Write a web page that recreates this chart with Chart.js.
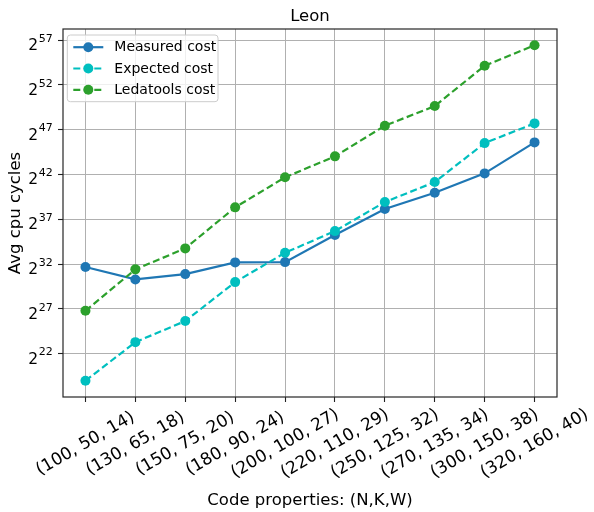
<!DOCTYPE html>
<html>
<head>
<meta charset="utf-8">
<script src="https://cdn.jsdelivr.net/npm/chart.js@4.4.1/dist/chart.umd.min.js"></script>
<style>
  html, body { margin: 0; padding: 0; background: #ffffff; }
  canvas { display: block; }
</style>
</head>
<body>
<canvas id="chart" width="594" height="512"></canvas>
<script>
// Code parameters (N, K, W) on the x axis
const categories = [
  '(100, 50, 14)', '(130, 65, 18)', '(150, 75, 20)', '(180, 90, 24)', '(200, 100, 27)',
  '(220, 110, 29)', '(250, 125, 32)', '(270, 135, 34)', '(300, 150, 38)', '(320, 160, 40)'
];

// Average cpu cycles, stored as base-2 exponents
const measuredLog2  = [31.67, 30.29, 30.88, 32.19, 32.22, 35.24, 38.14, 39.96, 42.12, 45.58];
const expectedLog2  = [18.98, 23.29, 25.64, 29.99, 33.26, 35.68, 38.92, 41.15, 45.50, 47.70];
const ledatoolsLog2 = [26.79, 31.41, 33.75, 38.33, 41.68, 44.02, 47.44, 49.63, 54.13, 56.41];

const seriesNames = ['Measured cost', 'Expected cost', 'Ledatools cost'];
const yTickExponents = [22, 27, 32, 37, 42, 47, 52, 57];

const chartTitle = 'Leon';
const xTitle = 'Code properties: (N,K,W)';
const yTitle = 'Avg cpu cycles';

const FONT = "'DejaVu Sans', 'Liberation Sans', sans-serif";
const colors = ['#1f77b4', '#00bfbf', '#2ca02c'];
const dashes = [[], [7, 3.5], [7, 3.5]];
const series = [measuredLog2, expectedLog2, ledatoolsLog2];
const MARKER_R = 5;

const datasets = series.map((vals, k) => ({
  label: seriesNames[k],
  data: vals.map((v, i) => ({ x: i, y: v })),
  borderColor: colors[k],
  backgroundColor: colors[k],
  pointBackgroundColor: colors[k],
  pointBorderColor: colors[k],
  pointBorderWidth: 0,
  pointRadius: MARKER_R,
  borderWidth: 2.2,
  borderDash: dashes[k],
  tension: 0,
  order: 3 - k
}));

const gridStyle = {
  color: '#b0b0b0',
  lineWidth: 1,
  tickLength: 5,
  tickColor: '#222222',
  tickWidth: 1.1
};

// Frame, tick labels, titles and the legend box
const decor = {
  id: 'decor',
  afterDatasetsDraw(chart) {
    const { ctx, chartArea: a } = chart;
    ctx.save();
    ctx.strokeStyle = '#262626';
    ctx.lineWidth = 1.2;
    ctx.strokeRect(a.left, a.top, a.right - a.left, a.bottom - a.top);
    ctx.restore();
  },
  afterDraw(chart) {
    const { ctx, chartArea: a, scales: { x, y } } = chart;
    const cx = (a.left + a.right) / 2;
    ctx.save();
    ctx.fillStyle = '#000000';

    // chart title and axis titles
    ctx.font = `16.5px ${FONT}`;
    ctx.textAlign = 'center';
    ctx.textBaseline = 'alphabetic';
    ctx.fillText(chartTitle, cx, 20.8);
    ctx.fillText(xTitle, cx, 505);
    ctx.save();
    ctx.translate(19.5, (a.top + a.bottom) / 2);
    ctx.rotate(-Math.PI / 2);
    ctx.fillText(yTitle, 0, 0);
    ctx.restore();

    // rotated category labels
    ctx.font = `17px ${FONT}`;
    ctx.textBaseline = 'middle';
    ctx.textAlign = 'center';
    categories.forEach((c, i) => {
      const px = x.getPixelForValue(i);
      ctx.save();
      ctx.translate(px, a.bottom + 46.8);
      ctx.rotate(-Math.PI / 6);
      ctx.fillText(c, 0, 0);
      ctx.restore();
    });

    // power-of-two tick labels
    ctx.textAlign = 'right';
    ctx.textBaseline = 'alphabetic';
    const right = a.left - 10.3;
    yTickExponents.forEach(e => {
      const py = y.getPixelForValue(e);
      const exp = String(e);
      ctx.font = `11px ${FONT}`;
      ctx.fillText(exp, right, py + 1.7);
      const ew = ctx.measureText(exp).width;
      ctx.font = `15.5px ${FONT}`;
      ctx.fillText('2', right - ew - 0.5, py + 10);
    });

    // legend
    const bx = a.left + 4.3, by = a.top + 6, bw = 150.7, bh = 66.7;
    ctx.beginPath();
    ctx.roundRect(bx, by, bw, bh, 3);
    ctx.fillStyle = 'rgba(255,255,255,0.8)';
    ctx.fill();
    ctx.strokeStyle = '#cccccc';
    ctx.lineWidth = 1;
    ctx.stroke();
    ctx.font = `14px ${FONT}`;
    ctx.textAlign = 'left';
    ctx.textBaseline = 'middle';
    seriesNames.forEach((name, k) => {
      const ry = by + 12.2 + k * 21.3;
      ctx.save();
      ctx.strokeStyle = colors[k];
      ctx.lineWidth = 2.2;
      ctx.setLineDash(dashes[k]);
      ctx.beginPath();
      ctx.moveTo(bx + 6, ry);
      ctx.lineTo(bx + 36, ry);
      ctx.stroke();
      ctx.setLineDash([]);
      ctx.fillStyle = colors[k];
      ctx.beginPath();
      ctx.arc(bx + 21, ry, MARKER_R, 0, Math.PI * 2);
      ctx.fill();
      ctx.restore();
      ctx.fillStyle = '#000000';
      ctx.fillText(name, bx + 47, ry + 0.5);
    });
    ctx.restore();
  }
};

new Chart(document.getElementById('chart'), {
  type: 'line',
  data: { datasets },
  plugins: [decor],
  options: {
    responsive: false,
    animation: false,
    devicePixelRatio: 1,
    layout: { padding: { left: 0, top: 29, right: 37, bottom: 0 } },
    plugins: {
      legend: { display: false },
      tooltip: { enabled: false },
      title: { display: false }
    },
    scales: {
      x: {
        type: 'linear',
        min: -0.45,
        max: 9.45,
        afterBuildTicks: s => { s.ticks = categories.map((_, i) => ({ value: i })); },
        afterFit: s => { s.height = 115; },
        ticks: { display: false },
        grid: gridStyle,
        border: { display: false }
      },
      y: {
        type: 'linear',
        min: 17.17,
        max: 58.23,
        afterBuildTicks: s => { s.ticks = yTickExponents.map(v => ({ value: v })); },
        afterFit: s => { s.width = 63; },
        ticks: { display: false },
        grid: gridStyle,
        border: { display: false }
      }
    }
  }
});
</script>
</body>
</html>
